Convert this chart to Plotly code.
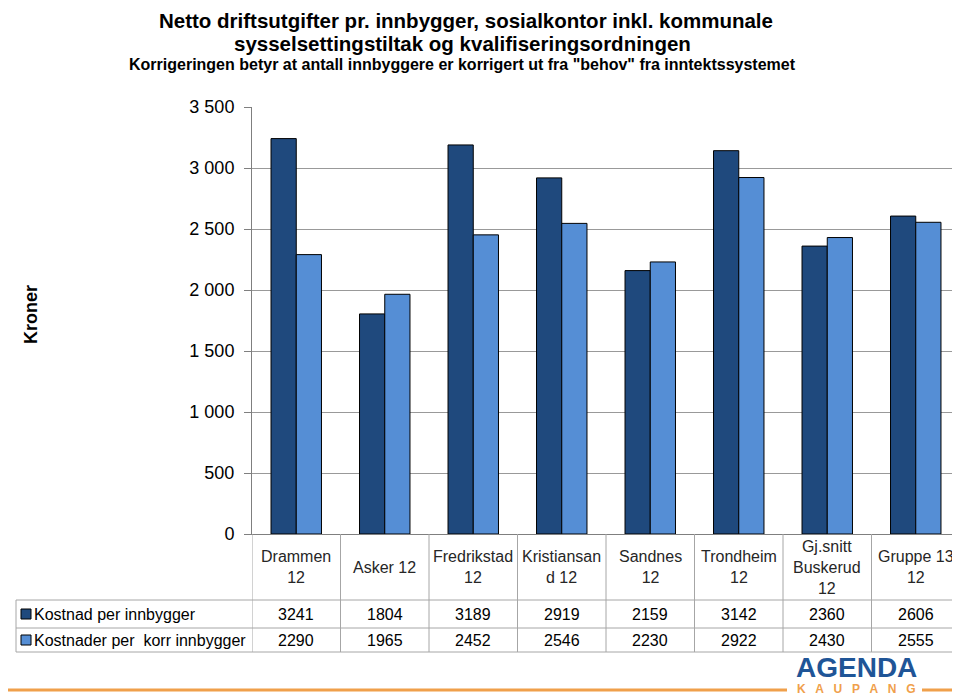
import plotly.graph_objects as go

categories = ["Drammen<br>12", "Asker 12", "Fredrikstad<br>12", "Kristiansan<br>d 12",
              "Sandnes<br>12", "Trondheim<br>12", "Gj.snitt<br>Buskerud<br>12", "Gruppe 13<br>12"]
series_names = ["Kostnad per innbygger", "Kostnader per  korr innbygger"]
kostnad = [3241, 1804, 3189, 2919, 2159, 3142, 2360, 2606]
korr = [2290, 1965, 2452, 2546, 2230, 2922, 2430, 2555]
y_ticks = [0, 500, 1000, 1500, 2000, 2500, 3000, 3500]
y_tick_labels = ["0", "500", "1 000", "1 500", "2 000", "2 500", "3 000", "3 500"]
colors = ["#1F497D", "#558ED5"]

OFF = 8  # page body margin
W, H = 960 - OFF, 699 - OFF
L, T = 252 - OFF, 107 - OFF
BOT = 534 - OFF
R = 0
B = H - BOT
PH = H - T - B
PW = W - L - R

def py(pix):
    return (BOT - (pix - OFF)) / PH

def px(pix):
    return (pix - OFF - L) / PW

REG = "Liberation Sans, Arial"

fig = go.Figure()
for name, vals, c in zip(series_names, [kostnad, korr], colors):
    fig.add_trace(go.Bar(x=list(range(len(categories))), y=vals, name=name,
                         marker=dict(color=c, line=dict(color="black", width=1)),
                         showlegend=False))

shapes = []
annotations = []
grid = "#A6A6A6"
n = len(categories)

def ann(**kw):
    kw.setdefault("showarrow", False)
    kw.setdefault("xanchor", "center")
    kw.setdefault("yanchor", "middle")
    annotations.append(kw)

# table vertical lines
for i in range(n + 1):
    shapes.append(dict(type="line", xref="x", yref="paper", x0=i - 0.5, x1=i - 0.5,
                       y0=py(534), y1=py(652), line=dict(color=grid, width=1)))
# table horizontal lines
for yy in [600, 628, 652]:
    shapes.append(dict(type="line", xref="paper", yref="paper", x0=px(16), x1=1,
                       y0=py(yy), y1=py(yy), line=dict(color=grid, width=1)))
shapes.append(dict(type="line", xref="paper", yref="paper", x0=px(16), x1=px(16),
                   y0=py(600), y1=py(652), line=dict(color=grid, width=1)))
# category labels and values
for i, cat in enumerate(categories):
    ann(x=i, y=py(567), xref="x", yref="paper", text=cat, align="center",
        font=dict(family=REG, size=16, color="#262626"))
    ann(x=i, y=py(614), xref="x", yref="paper", text=str(kostnad[i]),
        font=dict(family=REG, size=16, color="black"))
    ann(x=i, y=py(640), xref="x", yref="paper", text=str(korr[i]),
        font=dict(family=REG, size=16, color="black"))
# legend keys in table
for name, c, yy in zip(series_names, colors, [614, 640]):
    shapes.append(dict(type="rect", xref="paper", yref="paper", x0=px(21), x1=px(31),
                       y0=py(yy + 5), y1=py(yy - 5), fillcolor=c, line=dict(color="black", width=1)))
    ann(x=px(32), y=py(yy), xref="paper", yref="paper", text=name, xanchor="left",
        font=dict(family=REG, size=16, color="black"))
# titles
ann(x=px(466), y=py(20), xref="paper", yref="paper", borderpad=0,
    text="<b>Netto driftsutgifter pr. innbygger, sosialkontor inkl. kommunale</b>",
    font=dict(family=REG, size=20.5, color="black"))
ann(x=px(462), y=py(43), xref="paper", yref="paper", borderpad=0,
    text="<b>sysselsettingstiltak og kvalifiseringsordningen</b>",
    font=dict(family=REG, size=20.5, color="black"))
ann(x=px(462), y=py(64), xref="paper", yref="paper", borderpad=0,
    text="<b>Korrigeringen betyr at antall innbyggere er korrigert ut fra \"behov\" fra inntektssystemet</b>",
    font=dict(family=REG, size=16, color="black"))
# y axis title
ann(x=px(31), y=py(315), xref="paper", yref="paper", text="<b>Kroner</b>", textangle=-90,
    font=dict(family=REG, size=18, color="black"))
# logo
orange = "#F0A04B"
shapes.append(dict(type="line", xref="paper", yref="paper", x0=px(8), x1=px(787),
                   y0=py(690), y1=py(690), line=dict(color=orange, width=3)))
shapes.append(dict(type="line", xref="paper", yref="paper", x0=px(922), x1=px(960),
                   y0=py(690), y1=py(690), line=dict(color=orange, width=3)))
ann(x=px(856), y=py(667), xref="paper", yref="paper", text="<b>AGENDA</b>",
    font=dict(family=REG, size=28, color="#1F5597"))
ann(x=px(856), y=py(689), xref="paper", yref="paper", text="<b>K   A   U   P   A   N   G</b>",
    font=dict(family=REG, size=12, color=orange))

fig.update_layout(
    width=W, height=H, margin=dict(l=L, r=R, t=T, b=B, autoexpand=False),
    paper_bgcolor="white", plot_bgcolor="white",
    barmode="group", bargap=0.43, bargroupgap=0,
    shapes=shapes, annotations=annotations,
    xaxis=dict(range=[-0.5, n - 0.5], showticklabels=False, showgrid=False, zeroline=False,
               showline=True, linecolor="#7F7F7F", linewidth=1, ticks="", automargin=False),
    yaxis=dict(range=[0, 3500], tickvals=y_ticks, ticktext=y_tick_labels,
               showgrid=True, gridcolor="#999999", gridwidth=1, zeroline=False,
               showline=True, linecolor="#7F7F7F", linewidth=1,
               ticks="outside", ticklen=7, tickcolor="#7F7F7F", ticklabelstandoff=6,
               automargin=False,
               tickfont=dict(family=REG, size=18, color="black")),
)
fig.write_html("out.html")
